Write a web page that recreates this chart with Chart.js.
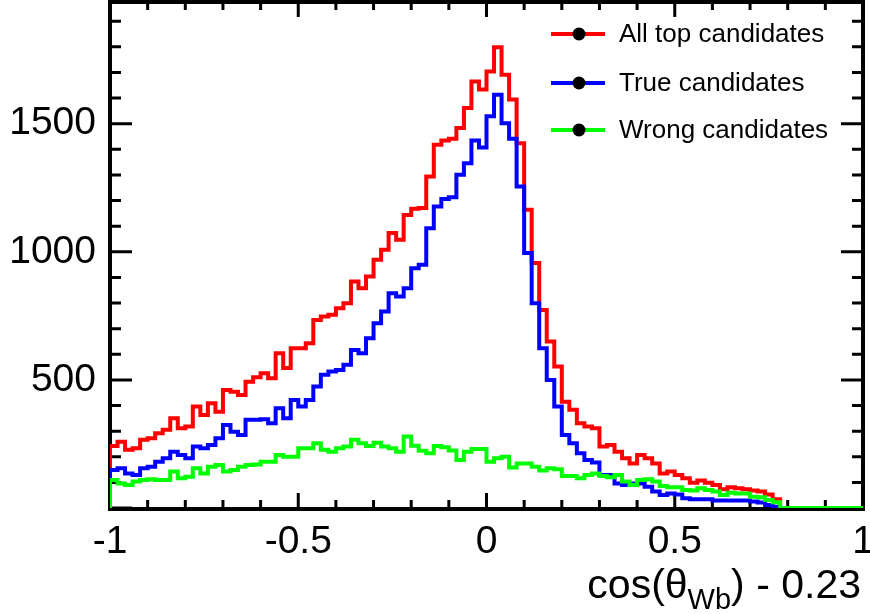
<!DOCTYPE html>
<html>
<head>
    <title>cos(theta_Wb) - 0.23</title>
    <meta charset="UTF-8">
    <style>
        html, body {
            margin: 0;
            padding: 0;
            background: #fff;
        }
        #wrap {
            width: 870px;
            height: 614px;
        }
    </style>
    <script src="https://cdn.jsdelivr.net/npm/chart.js"></script>
</head>
<body>
    <div id="wrap"><canvas id="histChart" width="870" height="614"></canvas></div>

    <script>
        // 100 bins from -1 to 1
        const binLow = -1;
        const binWidth = 0.02;

        const allTop = [
            242, 259, 227, 233, 266, 272, 292, 305, 350, 311,
            318, 396, 363, 409, 376, 461, 454, 441, 493, 510,
            526, 506, 604, 546, 624, 624, 643, 734, 747, 754,
            780, 799, 884, 858, 904, 969, 1008, 1073, 1047, 1144,
            1168, 1171, 1294, 1418, 1434, 1441, 1483, 1561, 1665, 1633,
            1704, 1798, 1691, 1594, 1424, 1164, 956, 773, 650, 552,
            415, 383, 331, 318, 311, 240, 246, 220, 194, 174,
            207, 194, 174, 135, 142, 129, 116, 99, 107, 99,
            90, 73, 81, 77, 73, 68, 64, 53, 34, 0,
            0, 0, 0, 0, 0, 0, 0, 0, 0, 0
        ];
        const trueCand = [
            148, 155, 135, 129, 155, 161, 181, 194, 220, 207,
            194, 240, 233, 246, 272, 324, 298, 285, 344, 344,
            346, 331, 389, 350, 422, 396, 422, 474, 520, 533,
            539, 559, 617, 604, 663, 721, 767, 838, 826, 858,
            936, 949, 1092, 1177, 1206, 1213, 1301, 1346, 1434, 1407,
            1529, 1613, 1502, 1441, 1255, 995, 799, 624, 500, 396,
            285, 253, 214, 187, 178, 129, 129, 96, 90, 96,
            96, 83, 64, 51, 57, 53, 38, 34, 34, 34,
            29, 29, 29, 29, 29, 25, 21, 12, 5, 0,
            0, 0, 0, 0, 0, 0, 0, 0, 0, 0
        ];
        const wrongCand = [
            109, 96, 90, 103, 109, 112, 109, 109, 142, 116,
            122, 155, 135, 161, 168, 142, 148, 161, 168, 170,
            181, 181, 207, 200, 200, 233, 233, 253, 227, 220,
            233, 240, 266, 253, 242, 255, 240, 233, 220, 279,
            243, 223, 214, 242, 237, 224, 187, 220, 230, 230,
            181, 194, 200, 158, 174, 174, 161, 146, 155, 151,
            125, 125, 116, 129, 135, 125, 120, 129, 103, 90,
            109, 112, 103, 86, 81, 81, 70, 68, 77, 70,
            64, 51, 60, 57, 57, 44, 42, 31, 22, 0,
            0, 0, 0, 0, 0, 0, 0, 0, 0, 0
        ];

        const seriesNames = ['All top candidates', 'True candidates', 'Wrong candidates'];
        const seriesColors = ['#ff0000', '#0000ff', '#00ff00'];

        const xTicks = [-1, -0.5, 0, 0.5, 1];
        const yTicks = [500, 1000, 1500];
        const xMin = -1, xMax = 1, xStep = 0.5, xMinor = 0.1;
        const yMin = 0, yMax = 1975, yStep = 500, yMinor = 100;

        const FONT = '"Liberation Sans", Arial, Helvetica, sans-serif';

        // histogram outline: point at each bin's low edge, stepped
        function toSteps(vals) {
            const pts = [{ x: binLow, y: 0 }];
            vals.forEach((v, i) => pts.push({ x: binLow + i * binWidth, y: v }));
            pts.push({ x: binLow + vals.length * binWidth, y: vals[vals.length - 1] });
            return pts;
        }

        const seriesData = [allTop, trueCand, wrongCand];

        // ROOT style frame with inward ticks on all four sides, under the histograms
        const framePlugin = {
            id: 'frame',
            beforeDatasetsDraw(chart) {
                const ctx = chart.ctx;
                const a = chart.chartArea;
                const xs = chart.scales.x, ys = chart.scales.y;
                ctx.save();
                ctx.strokeStyle = '#000';
                ctx.lineWidth = 3;
                ctx.beginPath();
                for (let v = xMin; v <= xMax + 1e-9; v += xMinor) {
                    const px = xs.getPixelForValue(v);
                    const major = Math.abs(v / xStep - Math.round(v / xStep)) < 1e-6;
                    const len = major ? 15 : 8;
                    ctx.moveTo(px, a.bottom); ctx.lineTo(px, a.bottom - len);
                    ctx.moveTo(px, a.top); ctx.lineTo(px, a.top + len);
                }
                for (let v = yMin; v <= yMax; v += yMinor) {
                    const py = ys.getPixelForValue(v);
                    const major = v % yStep === 0;
                    const len = major ? 22 : 11;
                    ctx.moveTo(a.left, py); ctx.lineTo(a.left + len, py);
                    ctx.moveTo(a.right, py); ctx.lineTo(a.right - len, py);
                }
                ctx.stroke();
                ctx.lineWidth = 4;
                ctx.strokeRect(a.left, a.top, a.right - a.left, a.bottom - a.top + 1);
                ctx.restore();
            },
            afterDatasetsDraw(chart) {
                const ctx = chart.ctx;
                ctx.save();
                // legend
                ctx.font = '26px ' + FONT;
                ctx.textBaseline = 'middle';
                ctx.textAlign = 'left';
                const rowY = [34, 83, 130];
                seriesNames.forEach((name, i) => {
                    const y = rowY[i];
                    ctx.strokeStyle = seriesColors[i];
                    ctx.lineWidth = 4;
                    ctx.beginPath();
                    ctx.moveTo(551, y); ctx.lineTo(605, y);
                    ctx.stroke();
                    ctx.fillStyle = '#000';
                    ctx.beginPath();
                    ctx.arc(579, y, 6.5, 0, Math.PI * 2);
                    ctx.fill();
                    ctx.fillText(name, 619, y + 1);
                });

                // x axis title with subscript
                const big = '41px ' + FONT, small = '29px ' + FONT;
                const parts = [
                    { t: 'cos(\u03b8', f: big, dy: 0 },
                    { t: 'Wb', f: small, dy: 11 },
                    { t: ') - 0.23', f: big, dy: 0 }
                ];
                let w = 0;
                parts.forEach(p => { ctx.font = p.f; w += ctx.measureText(p.t).width; });
                let x = 861 - w;
                ctx.textBaseline = 'alphabetic';
                parts.forEach(p => {
                    ctx.font = p.f;
                    ctx.fillText(p.t, x, 598 + p.dy);
                    x += ctx.measureText(p.t).width;
                });
                ctx.restore();
            }
        };

        const ctx = document.getElementById('histChart').getContext('2d');
        const chart = new Chart(ctx, {
            type: 'line',
            data: {
                datasets: seriesData.map((vals, i) => ({
                    label: seriesNames[i],
                    data: toSteps(vals),
                    borderColor: seriesColors[i],
                    borderWidth: 4,
                    stepped: true,
                    fill: false,
                    pointRadius: 0,
                    order: 2 - i
                }))
            },
            options: {
                responsive: false,
                animation: false,
                devicePixelRatio: 1,
                layout: {
                    padding: { top: 2, right: 7, left: 0, bottom: 0 }
                },
                scales: {
                    x: {
                        type: 'linear',
                        min: xMin,
                        max: xMax,
                        afterBuildTicks: s => { s.ticks = xTicks.map(v => ({ value: v })); },
                        afterFit: s => { s.height = 106; s.paddingLeft = 0; s.paddingRight = 0; },
                        grid: { display: false, drawTicks: false },
                        border: { display: false },
                        ticks: {
                            padding: 11,
                            color: '#000',
                            font: { size: 39, family: FONT },
                            maxRotation: 0,
                            autoSkip: false,
                            callback: v => String(v)
                        }
                    },
                    y: {
                        min: yMin,
                        max: yMax,
                        afterBuildTicks: s => { s.ticks = yTicks.map(v => ({ value: v })); },
                        afterFit: s => { s.width = 110; s.paddingTop = 0; s.paddingBottom = 0; },
                        grid: { display: false, drawTicks: false },
                        border: { display: false },
                        ticks: {
                            padding: 14,
                            color: '#000',
                            font: { size: 39, family: FONT },
                            autoSkip: false,
                            callback: v => String(v)
                        }
                    }
                },
                plugins: {
                    legend: { display: false },
                    tooltip: { enabled: false }
                }
            },
            plugins: [framePlugin]
        });
    </script>
</body>
</html>
